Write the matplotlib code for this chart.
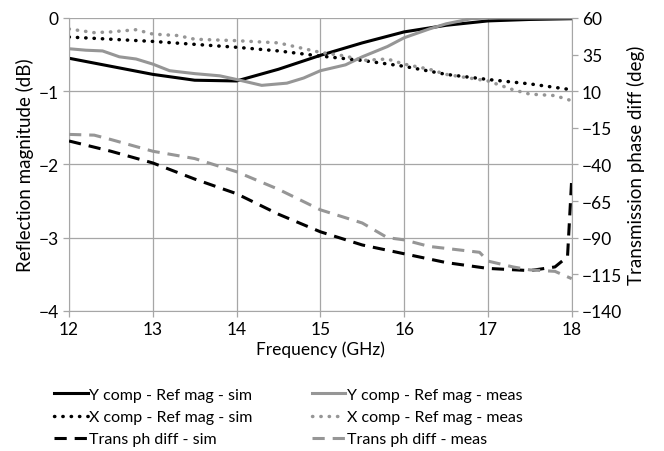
import numpy as np
import matplotlib
matplotlib.use("Agg")
import matplotlib.pyplot as plt

plt.rcParams['font.family'] = ['Lato', 'DejaVu Sans']

# reflection magnitude (dB)
f_ysim = [12, 12.5, 13, 13.5, 14, 14.5, 15, 15.5, 16, 16.5, 17, 17.5, 18]
y_sim = [-0.55, -0.66, -0.77, -0.85, -0.86, -0.70, -0.51, -0.34, -0.19, -0.10, -0.04, -0.02, -0.01]

f_ymeas = [12, 12.2, 12.4, 12.6, 12.8, 13, 13.2, 13.5, 13.8, 14, 14.3, 14.6, 14.8, 15, 15.3,
           15.5, 15.8, 16, 16.3, 16.5, 16.8, 17, 17.5, 18]
y_meas = [-0.42, -0.44, -0.45, -0.53, -0.56, -0.63, -0.72, -0.76, -0.79, -0.84, -0.92, -0.89,
          -0.82, -0.72, -0.64, -0.53, -0.39, -0.27, -0.15, -0.08, -0.01, 0.0, 0.0, 0.0]

f_xsim = [12, 12.5, 13, 13.5, 14, 14.5, 15, 15.5, 16, 16.5, 17, 17.5, 18]
x_sim = [-0.26, -0.29, -0.32, -0.36, -0.40, -0.45, -0.52, -0.58, -0.66, -0.77, -0.84, -0.90, -0.98]

f_xmeas = [12, 12.3, 12.5, 12.8, 13, 13.3, 13.5, 14, 14.5, 15, 15.3, 15.5, 15.8, 16, 16.3,
           16.5, 17, 17.3, 17.5, 17.8, 18]
x_meas = [-0.15, -0.20, -0.19, -0.16, -0.22, -0.24, -0.29, -0.31, -0.34, -0.47, -0.52, -0.58,
          -0.56, -0.63, -0.70, -0.77, -0.86, -0.98, -1.04, -1.06, -1.13]

# transmission phase difference (deg)
f_tsim = [12, 12.5, 13, 13.5, 14, 14.5, 15, 15.5, 16, 16.5, 17, 17.5, 17.8, 17.95, 18]
t_sim = [-24, -31, -39, -50, -60, -74, -86, -95, -101, -107, -111, -112.5, -110, -103, -50]

f_tmeas = [12, 12.3, 12.5, 13, 13.5, 14, 14.5, 15, 15.5, 15.8, 16, 16.3, 16.6, 16.9, 17,
           17.3, 17.5, 17.8, 18]
t_meas = [-19.5, -20, -23, -31, -36, -45, -57, -71, -80, -90, -91.5, -96, -98, -100, -106,
          -110, -112, -113, -118]

fig = plt.figure(figsize=(6.64, 4.52), dpi=100)
ax = fig.add_axes([0.104, 0.31, 0.757, 0.648])
ax2 = ax.twinx()

grid_c = '#a6a6a6'
gray = '#969696'
dots = (0, (0.1, 2.3))
dashes = (0, (4, 2.6))

ax.plot(f_ysim, y_sim, color='black', lw=2.2)
ax.plot(f_ymeas, y_meas, color=gray, lw=2.2)
ax.plot(f_xsim, x_sim, color='black', lw=2.5, linestyle=dots, dash_capstyle='round')
ax.plot(f_xmeas, x_meas, color=gray, lw=2.5, linestyle=dots, dash_capstyle='round')
ax2.plot(f_tsim, t_sim, color='black', lw=2.2, linestyle=dashes)
ax2.plot(f_tmeas, t_meas, color=gray, lw=2.2, linestyle=dashes)

ax.set_xlim(12, 18)
ax.set_ylim(-4, 0)
ax2.set_ylim(-140, 60)
ax.set_xticks(range(12, 19))
ax.set_yticks([0, -1, -2, -3, -4])
ax2.set_yticks([60, 35, 10, -15, -40, -65, -90, -115, -140])
ax.grid(True, color=grid_c, lw=0.9)
ax.set_axisbelow(True)

for a in (ax, ax2):
    for s in a.spines.values():
        s.set_visible(False)
    a.tick_params(colors=grid_c, labelcolor='black', labelsize=12.5, length=4, width=0.9)
ax.spines['left'].set_visible(True)
ax.spines['left'].set_color(grid_c)
ax.spines['bottom'].set_visible(True)
ax.spines['bottom'].set_color(grid_c)
ax2.spines['right'].set_visible(True)
ax2.spines['right'].set_color(grid_c)

ax.set_xlabel('Frequency (GHz)', fontsize=12.5, labelpad=2)
ax.set_ylabel('Reflection magnitude (dB)', fontsize=13.5, labelpad=3)
ax2.set_ylabel('Transmission phase diff (deg)', fontsize=13.5, labelpad=3)

h = ax.get_lines() + ax2.get_lines()
labels = ['Y comp - Ref mag - sim', 'Y comp - Ref mag - meas',
          'X comp - Ref mag - sim', 'X comp - Ref mag - meas',
          'Trans ph diff - sim', 'Trans ph diff - meas']
order = [0, 2, 4, 1, 3, 5]
fig.legend([h[i] for i in order], [labels[i] for i in order], ncol=2,
           loc='upper left', bbox_to_anchor=(0.072, 0.154), frameon=False,
           fontsize=11.5, handlelength=2.1, handletextpad=0.1, columnspacing=3.7,
           labelspacing=0.5, borderaxespad=0)

fig.savefig('out.png', dpi=100)
